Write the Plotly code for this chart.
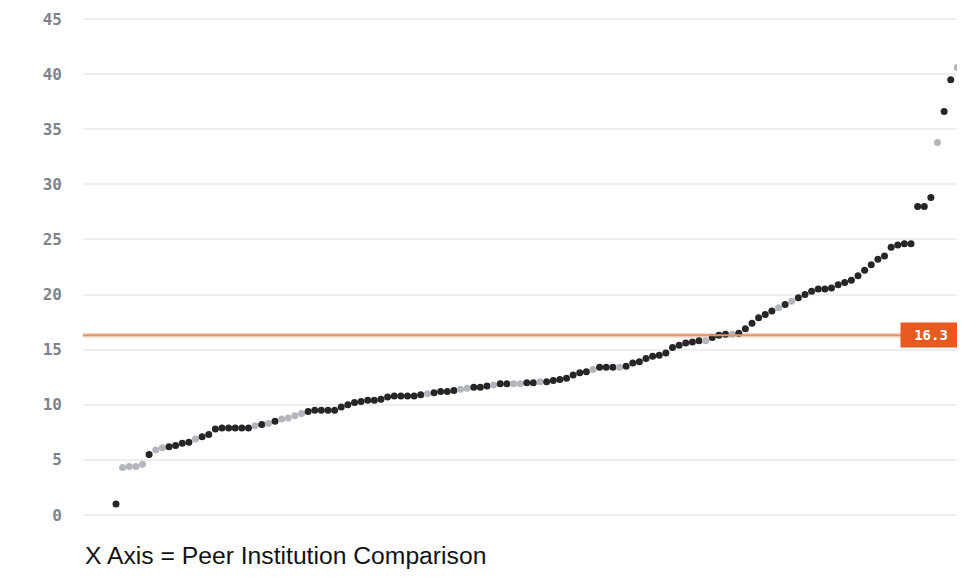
import plotly.graph_objects as go

# Nilai tiap institusi (urut dari kecil ke besar)
values = [
    1.0, 4.3, 4.4, 4.4, 4.6, 5.5, 5.9, 6.1, 6.2, 6.3,
    6.5, 6.6, 6.9, 7.1, 7.3, 7.8, 7.9, 7.9, 7.9, 7.9,
    7.9, 8.1, 8.2, 8.3, 8.5, 8.7, 8.8, 9.0, 9.2, 9.4,
    9.5, 9.5, 9.5, 9.5, 9.8, 10.0, 10.2, 10.3, 10.4, 10.4,
    10.5, 10.7, 10.8, 10.8, 10.8, 10.8, 10.9, 11.0, 11.1, 11.2,
    11.2, 11.3, 11.4, 11.5, 11.6, 11.6, 11.7, 11.8, 11.9, 11.9,
    11.9, 11.9, 12.0, 12.0, 12.1, 12.1, 12.2, 12.3, 12.4, 12.7,
    12.9, 13.0, 13.2, 13.4, 13.4, 13.4, 13.4, 13.5, 13.8, 13.9,
    14.2, 14.4, 14.5, 14.7, 15.2, 15.4, 15.6, 15.7, 15.8, 15.8,
    16.1, 16.3, 16.4, 16.4, 16.5, 16.9, 17.4, 17.9, 18.2, 18.5,
    18.8, 19.1, 19.4, 19.7, 20.0, 20.3, 20.5, 20.5, 20.6, 20.9,
    21.1, 21.3, 21.7, 22.2, 22.7, 23.2, 23.5, 24.3, 24.5, 24.6,
    24.6, 28.0, 28.0, 28.8, 33.8, 36.6, 39.5, 40.6, 41.8,
]
# Titik abu-abu (d = gelap, g = abu-abu)
groups = list(
    "dggggdggdd" "ddgddddddd" "dgdgdggggd" "dddddddddd"
    "dddddddgdd" "ddggdddgdd" "ggddgddddd" "ddgdddgddd"
    "dddddddddg" "dddgdddddd" "gdgddddddd" "dddddddddd"
    "ddddgddgd"
)
ranks = list(range(1, len(values) + 1))
median_value = 16.3
y_ticks = [0, 5, 10, 15, 20, 25, 30, 35, 40, 45]

colors = {"d": "#262626", "g": "#b3b6bb"}

fig = go.Figure()

# Titik data
fig.add_trace(go.Scatter(
    x=ranks,
    y=values,
    mode="markers",
    marker=dict(size=7, color=[colors[g] for g in groups]),
    showlegend=False,
))

# Garis nilai median
fig.add_hline(y=median_value, line=dict(color="#f7dccb", width=5), layer="below")
fig.add_hline(y=median_value, line=dict(color="#e3926a", width=2))

# Label median
fig.add_annotation(
    xref="paper", yref="y", x=0.9615, y=median_value,
    xanchor="center", yanchor="middle",
    text=f"<b>{median_value}</b>", showarrow=False,
    font=dict(family="DejaVu Sans Mono", size=14, color="white"),
    bgcolor="#e65a20", width=52, height=16, borderpad=4,
)

# Judul sumbu x
fig.add_annotation(
    xref="paper", yref="paper", x=0.0, y=-0.0498, xanchor="left", yanchor="middle",
    text="X Axis = Peer Institution Comparison", showarrow=False,
    font=dict(family="Liberation Sans", size=24.7, color="#111111"),
)

# Halaman memiliki margin 8px, jadi ukuran figure dikurangi
fig.update_layout(
    width=957, height=561,
    margin=dict(l=75, r=0, t=0, b=39),
    plot_bgcolor="white", paper_bgcolor="white",
    xaxis=dict(range=[-3.98, 129.15], showgrid=False, zeroline=False,
               showticklabels=False, showline=False),
    yaxis=dict(range=[-1.361, 46.0], tickvals=y_ticks,
               showgrid=True, gridcolor="#eeeeee", gridwidth=2,
               zeroline=False, showline=False, ticklabelstandoff=20,
               tickfont=dict(family="DejaVu Sans Mono", size=16,
                             color="#7b838e", weight="bold")),
)

fig.write_html("out.html")
